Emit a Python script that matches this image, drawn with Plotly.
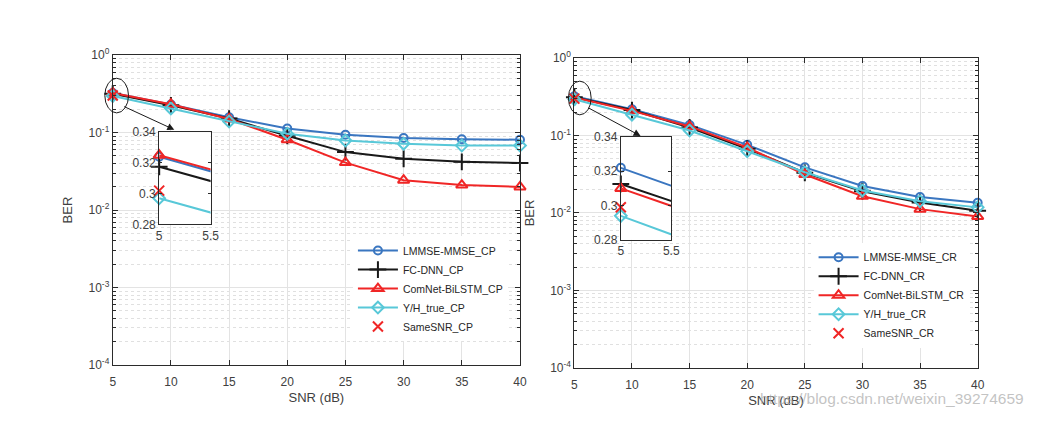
import plotly.graph_objects as go

W, H = 1044, 421

snr = [5, 10, 15, 20, 25, 30, 35, 40]

# Left panel (CP)
lmmse_cp = [0.324, 0.230, 0.158, 0.113, 0.094, 0.085, 0.082, 0.081]
fcdnn_cp = [0.3175, 0.225, 0.152, 0.091, 0.056, 0.046, 0.042, 0.0405]
comnet_cp = [0.325, 0.233, 0.150, 0.081, 0.041, 0.0243, 0.021, 0.0199]
yh_cp = [0.297, 0.205, 0.139, 0.097, 0.079, 0.072, 0.068, 0.068]
same_snr_x = [5]
same_cp = [0.302]

# Right panel (CR)
lmmse_cr = [0.322, 0.218, 0.137, 0.0757, 0.0388, 0.0223, 0.0161, 0.01355]
fcdnn_cr = [0.3126, 0.213, 0.127, 0.0675, 0.033, 0.019, 0.0136, 0.0107]
comnet_cr = [0.310, 0.208, 0.131, 0.070, 0.0314, 0.0164, 0.0112, 0.0090]
yh_cr = [0.294, 0.186, 0.116, 0.0625, 0.0336, 0.0195, 0.0142, 0.0118]
same_cr = [0.299]

names_cp = ["LMMSE-MMSE_CP", "FC-DNN_CP", "ComNet-BiLSTM_CP", "Y/H_true_CP", "SameSNR_CP"]
names_cr = ["LMMSE-MMSE_CR", "FC-DNN_CR", "ComNet-BiLSTM_CR", "Y/H_true_CR", "SameSNR_CR"]

x_ticks = [5, 10, 15, 20, 25, 30, 35, 40]
y_ticks = [1e-4, 1e-3, 1e-2, 1e-1, 1]
y_ticktext = ["10<sup>-4</sup>", "10<sup>-3</sup>", "10<sup>-2</sup>", "10<sup>-1</sup>", "10<sup>0</sup>"]
inset_x_ticks = [5, 5.5]
inset_y_ticks = [0.28, 0.30, 0.32, 0.34]
inset_y_text = ["0.28", "0.3", "0.32", "0.34"]

BLUE = "rgb(58,118,192)"
BLACK = "rgb(25,25,25)"
RED = "rgb(240,38,38)"
CYAN = "rgb(88,200,216)"
FONT = "Liberation Sans, Arial, sans-serif"
AX = "#2b2b2b"

styles = [
    (BLUE, "circle-open", 8),
    (BLACK, "cross-thin-open", 12),
    (RED, "triangle-up-open", 10),
    (CYAN, "diamond-open", 9),
]

fig = go.Figure()


def add_panel(series, same, names, xa, ya, legend, showlegend):
    for (col, sym, sz), ys, nm in zip(styles, series, names):
        fig.add_trace(go.Scatter(
            x=snr, y=ys, name=nm, mode="lines+markers",
            line=dict(color=col, width=2),
            marker=dict(symbol=sym, size=sz, color=col, line=dict(color=col, width=2)),
            xaxis=xa, yaxis=ya, legend=legend, showlegend=showlegend, cliponaxis=False,
        ))
    fig.add_trace(go.Scatter(
        x=same_snr_x, y=same, name=names[4], mode="markers",
        marker=dict(symbol="x-thin-open", size=10, color=RED, line=dict(color=RED, width=2)),
        xaxis=xa, yaxis=ya, legend=legend, showlegend=showlegend, cliponaxis=False,
    ))


series_cp = [lmmse_cp, fcdnn_cp, comnet_cp, yh_cp]
series_cr = [lmmse_cr, fcdnn_cr, comnet_cr, yh_cr]

add_panel(series_cp, same_cp, names_cp, "x", "y", "legend", True)
add_panel(series_cr, same_cr, names_cr, "x2", "y2", "legend2", True)
add_panel(series_cp, same_cp, names_cp, "x3", "y3", "legend", False)
add_panel(series_cr, same_cr, names_cr, "x4", "y4", "legend2", False)


def px(a, b):
    return [a / W, b / W]


def py(top, bottom):
    return [1 - bottom / H, 1 - top / H]


minor_vals = [k * 10 ** e for e in range(-4, 0) for k in range(2, 10)]

main_x = dict(
    range=[5, 40], tickvals=x_ticks, ticks="inside", ticklen=5, tickcolor=AX,
    showline=True, linecolor=AX, linewidth=1, mirror="ticks",
    showgrid=True, gridcolor="#e3e3e3", gridwidth=1, zeroline=False,
    ticklabelstandoff=6,
    tickfont=dict(size=12, color="#404040", family=FONT),
    title=dict(text="SNR (dB)", font=dict(size=13, color="#404040", family=FONT), standoff=4),
)
main_y = dict(
    type="log", range=[-4, 0], tickvals=y_ticks, ticktext=y_ticktext,
    ticks="inside", ticklen=5, tickcolor=AX,
    showline=True, linecolor=AX, linewidth=1, mirror="ticks",
    showgrid=True, gridcolor="#e3e3e3", gridwidth=1, zeroline=False,
    minor=dict(tickvals=minor_vals, ticks="inside", ticklen=3, tickcolor=AX,
               showgrid=True, gridcolor="#e0e0e0", griddash="dot", gridwidth=1),
    tickfont=dict(size=12, color="#404040", family=FONT),
    title=dict(text="BER", font=dict(size=13, color="#404040", family=FONT), standoff=12),
)
inset_x = dict(
    range=[5, 5.5], tickvals=inset_x_ticks, ticktext=["5", "5.5"], ticks="inside", ticklen=3,
    tickcolor=AX, showline=True, linecolor=AX, linewidth=1, mirror="ticks",
    showgrid=False, zeroline=False, tickfont=dict(size=12, color="#404040", family=FONT),
)
inset_y = dict(
    range=[0.28, 0.34], tickvals=inset_y_ticks, ticktext=inset_y_text, ticks="inside", ticklen=3,
    tickcolor=AX, showline=True, linecolor=AX, linewidth=1, mirror="ticks",
    showgrid=False, zeroline=False, tickfont=dict(size=12, color="#404040", family=FONT),
)

fig.update_layout(
    width=W, height=H, margin=dict(l=0, r=0, t=0, b=0),
    paper_bgcolor="white", plot_bgcolor="white",
    font=dict(family=FONT, color="#262626"),
    xaxis=dict(main_x, domain=px(111, 523), anchor="y"),
    yaxis=dict(main_y, domain=py(48, 370), anchor="x"),
    xaxis2=dict(main_x, domain=px(578, 986), anchor="y2"),
    yaxis2=dict(main_y, domain=py(51, 373), anchor="x2"),
    xaxis3=dict(inset_x, domain=px(158, 210), anchor="y3"),
    yaxis3=dict(inset_y, domain=py(128, 224), anchor="x3"),
    xaxis4=dict(inset_x, domain=px(625, 676), anchor="y4"),
    yaxis4=dict(inset_y, domain=py(133, 240), anchor="x4"),
    legend=dict(x=354 / W, y=1 - 236 / H, xanchor="left", yanchor="top",
                bgcolor="white", borderwidth=0, tracegroupgap=0, itemwidth=40,
                font=dict(size=10.5, color="#262626", family=FONT)),
    legend2=dict(x=820 / W, y=1 - 243 / H, xanchor="left", yanchor="top",
                 bgcolor="white", borderwidth=0, tracegroupgap=0, itemwidth=40,
                 font=dict(size=10.5, color="#262626", family=FONT)),
    showlegend=True,
)

# Ellipses marking zoom regions
fig.add_shape(type="circle", xref="paper", yref="paper",
              x0=103 / W, x1=127 / W, y0=1 - 108 / H, y1=1 - 72 / H,
              line=dict(color="#1a1a1a", width=1))
fig.add_shape(type="circle", xref="paper", yref="paper",
              x0=572 / W, x1=595 / W, y0=1 - 110 / H, y1=1 - 75 / H,
              line=dict(color="#1a1a1a", width=1))

# Arrows to insets
for (sx, sy, tx, ty) in [(121.7, 101.7, 173.3, 125.5), (591.7, 103.3, 645, 132)]:
    fig.add_annotation(xref="paper", yref="paper", x=tx / W, y=1 - ty / H,
                       ax=sx - tx, ay=sy - ty, text="", showarrow=True,
                       arrowhead=2, arrowsize=1.4, arrowwidth=1, arrowcolor="#1a1a1a",
                       standoff=0)

# Watermark
fig.add_annotation(xref="paper", yref="paper", x=1034 / W, y=1 - 405 / H,
                   xanchor="right", yanchor="middle", showarrow=False, borderpad=0,
                   text="https://blog.csdn.net/weixin_39274659",
                   font=dict(size=15.5, color="rgba(175,175,175,0.75)", family=FONT))

fig.write_html("out.html")
